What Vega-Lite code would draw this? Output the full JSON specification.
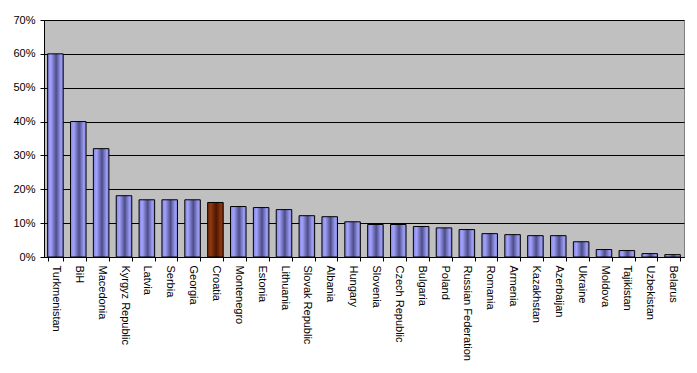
{
  "$schema": "https://vega.github.io/schema/vega-lite/v6.json",
  "width": 640,
  "height": 237,
  "autosize": {"type": "none"},
  "padding": {"left": 44, "top": 20, "right": 13, "bottom": 116},
  "background": "white",
  "config": {
    "view": {"fill": "#C0C0C0", "stroke": "#808080"},
    "font": "Liberation Sans",
    "axis": {
      "labelFont": "Liberation Sans",
      "labelFontSize": 11,
      "labelColor": "black",
      "domainColor": "black",
      "tickColor": "black",
      "title": null
    }
  },
  "data": {
    "values": [
      {"country": "Turkmenistan", "value": 0.60},
      {"country": "BiH", "value": 0.40},
      {"country": "Macedonia", "value": 0.32},
      {"country": "Kyrgyz Republic", "value": 0.181},
      {"country": "Latvia", "value": 0.169},
      {"country": "Serbia", "value": 0.169},
      {"country": "Georgia", "value": 0.169},
      {"country": "Croatia", "value": 0.161},
      {"country": "Montenegro", "value": 0.149},
      {"country": "Estonia", "value": 0.146},
      {"country": "Lithuania", "value": 0.140},
      {"country": "Slovak Republic", "value": 0.122},
      {"country": "Albania", "value": 0.119},
      {"country": "Hungary", "value": 0.104},
      {"country": "Slovenia", "value": 0.096},
      {"country": "Czech Republic", "value": 0.096},
      {"country": "Bulgaria", "value": 0.090},
      {"country": "Poland", "value": 0.086},
      {"country": "Russian Federation", "value": 0.081},
      {"country": "Romania", "value": 0.069},
      {"country": "Armenia", "value": 0.066},
      {"country": "Kazakhstan", "value": 0.063},
      {"country": "Azerbaijan", "value": 0.063},
      {"country": "Ukraine", "value": 0.045},
      {"country": "Moldova", "value": 0.022},
      {"country": "Tajikistan", "value": 0.019},
      {"country": "Uzbekistan", "value": 0.010},
      {"country": "Belarus", "value": 0.007}
    ]
  },
  "mark": {"type": "bar", "stroke": "black", "strokeWidth": 1},
  "encoding": {
    "x": {
      "field": "country",
      "type": "nominal",
      "sort": null,
      "scale": {"paddingInner": 0.32, "paddingOuter": 0.16},
      "axis": {
        "labelAngle": 90,
        "labelAlign": "left",
        "labelBaseline": "middle",
        "tickBand": "extent",
        "tickSize": 4,
        "labelPadding": 4,
        "grid": false
      }
    },
    "y": {
      "field": "value",
      "type": "quantitative",
      "scale": {"domain": [0, 0.7], "nice": false},
      "axis": {
        "values": [0, 0.1, 0.2, 0.3, 0.4, 0.5, 0.6, 0.7],
        "format": ".0%",
        "grid": true,
        "gridColor": "black",
        "gridOpacity": 1,
        "tickSize": 4,
        "labelPadding": 5
      }
    },
    "color": {
      "condition": {
        "test": "datum.country === 'Croatia'",
        "value": {
          "gradient": "linear", "x1": 0, "x2": 1, "y1": 0, "y2": 0,
          "stops": [
            {"offset": 0, "color": "#7A2A08"},
            {"offset": 0.2, "color": "#8E3A12"},
            {"offset": 0.55, "color": "#4E1600"},
            {"offset": 0.85, "color": "#8A3610"},
            {"offset": 1, "color": "#7A2A08"}
          ]
        }
      },
      "value": {
        "gradient": "linear", "x1": 0, "x2": 1, "y1": 0, "y2": 0,
        "stops": [
          {"offset": 0, "color": "#8585DD"},
          {"offset": 0.2, "color": "#A3A3FF"},
          {"offset": 0.55, "color": "#4D4D88"},
          {"offset": 0.85, "color": "#9C9CF5"},
          {"offset": 1, "color": "#8585DD"}
        ]
      }
    }
  }
}
